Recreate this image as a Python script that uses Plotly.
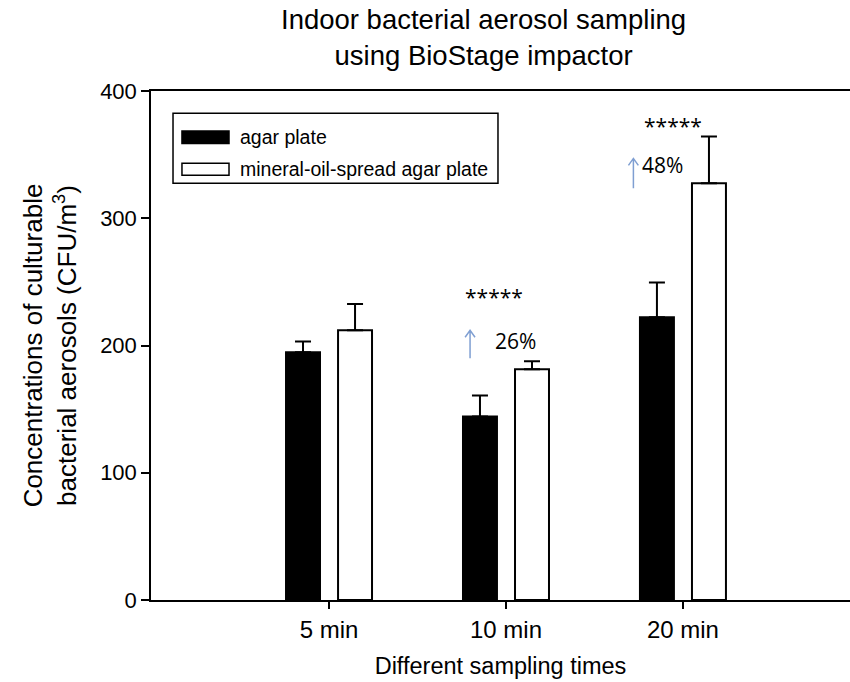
import plotly.graph_objects as go

categories = ["5 min", "10 min", "20 min"]
agar = [194.7, 144.3, 222.2]
agar_err = [8.4, 16.5, 27.4]
oil = [212.0, 181.4, 327.6]
oil_err = [20.7, 6.3, 36.6]
series_names = ["agar plate", "mineral-oil-spread agar plate"]
increase_labels = ["", "26%", "48%"]
signif_labels = ["", "*****", "*****"]

FONT = "Liberation Sans, Arial, sans-serif"
FONT2 = "Open Sans, Noto Sans, sans-serif"
ARROW = "#7f9fd2"

fig = go.Figure()
fig.add_trace(go.Bar(
    x=categories, y=agar, name=series_names[0],
    marker=dict(color="black", line=dict(color="black", width=2)),
    error_y=dict(type="data", symmetric=False, array=agar_err,
                 arrayminus=[0] * len(agar), color="black", thickness=2, width=8),
    showlegend=False,
))
fig.add_trace(go.Bar(
    x=categories, y=oil, name=series_names[1],
    marker=dict(color="white", line=dict(color="black", width=2)),
    error_y=dict(type="data", symmetric=False, array=oil_err,
                 arrayminus=[0] * len(oil), color="black", thickness=2, width=8),
    showlegend=False,
))

annotations = []
shapes = []
for i, cat in enumerate(categories):
    if not signif_labels[i]:
        continue
    if i == 1:
        star_xy = (i - 0.068, 238)
        pct_xy = (i + 0.056, 203.5)
        arr_x, arr_y0, arr_y1 = i - 0.203, 190, 212
    else:
        star_xy = (i - 0.059, 372.6)
        pct_xy = (i - 0.116, 342)
        arr_x, arr_y0, arr_y1 = i - 0.28, 323.5, 347
    annotations.append(dict(x=star_xy[0], y=star_xy[1], xref="x", yref="y",
                            text=signif_labels[i], showarrow=False,
                            font=dict(family=FONT2, size=21, color="black")))
    annotations.append(dict(x=pct_xy[0], y=pct_xy[1], xref="x", yref="y",
                            text=increase_labels[i], showarrow=False,
                            font=dict(family=FONT2, size=21, color="black")))
    dx, dy = 0.028, 5.5
    shapes.append(dict(type="path", xref="x", yref="y",
                       path=f"M {arr_x},{arr_y0} L {arr_x},{arr_y1} "
                            f"M {arr_x - dx},{arr_y1 - dy} L {arr_x},{arr_y1} L {arr_x + dx},{arr_y1 - dy}",
                       line=dict(color=ARROW, width=1.5)))

# custom legend (wide swatches like the original)
shapes.append(dict(type="rect", xref="paper", yref="paper",
                   x0=0.0315, x1=0.4964, y0=0.8188, y1=0.9562,
                   line=dict(color="black", width=1.5), fillcolor="white", layer="below"))
shapes.append(dict(type="rect", xref="paper", yref="paper",
                   x0=0.0443, x1=0.1116, y0=0.8967, y1=0.9215,
                   line=dict(color="black", width=1.5), fillcolor="black"))
shapes.append(dict(type="rect", xref="paper", yref="paper",
                   x0=0.0443, x1=0.1116, y0=0.8345, y1=0.858,
                   line=dict(color="black", width=1.5), fillcolor="white"))
for name, yc in zip(series_names, [0.9091, 0.8463]):
    annotations.append(dict(x=0.1245, y=yc, xref="paper", yref="paper",
                            xanchor="left", yanchor="middle", text=name,
                            showarrow=False,
                            font=dict(family=FONT, size=19.5, color="black")))

# title as annotation (two lines)
annotations.append(dict(x=(483 - 151) / 699, y=(600 - 37) / 509.3,
                        xref="paper", yref="paper", xanchor="center", yanchor="middle",
                        text="Indoor bacterial aerosol sampling<br>using BioStage impactor",
                        showarrow=False,
                        font=dict(family=FONT, size=27.5, color="black")))

fig.update_layout(
    width=850, height=682,
    margin=dict(l=151, r=0, t=91, b=82),
    paper_bgcolor="white", plot_bgcolor="white",
    barmode="group", bargap=0.412, bargroupgap=0.347,
    font=dict(family=FONT, color="black"),
    annotations=annotations,
    shapes=shapes,
)
fig.update_xaxes(
    range=[-1.006, 2.944], showline=True, linecolor="black", linewidth=1.5,
    mirror=True, ticks="outside", ticklen=7, tickwidth=1.5, tickcolor="black",
    showgrid=False, zeroline=False,
    tickfont=dict(family=FONT, size=24, color="black"),
    title=dict(text="Different sampling times", standoff=16,
               font=dict(family=FONT, size=23.5, color="black")),
)
fig.update_yaxes(
    range=[0, 400], tickvals=[0, 100, 200, 300, 400],
    showline=True, linecolor="black", linewidth=1.5,
    ticks="outside", ticklen=8, tickwidth=1.5, tickcolor="black",
    showgrid=False, zeroline=False,
    tickfont=dict(family=FONT, size=22, color="black"),
    title=dict(text="Concentrations of culturable<br>bacterial aerosols (CFU/m<sup>3</sup>)",
               standoff=16, font=dict(family=FONT, size=26, color="black")),
)

fig.write_html("out.html")
